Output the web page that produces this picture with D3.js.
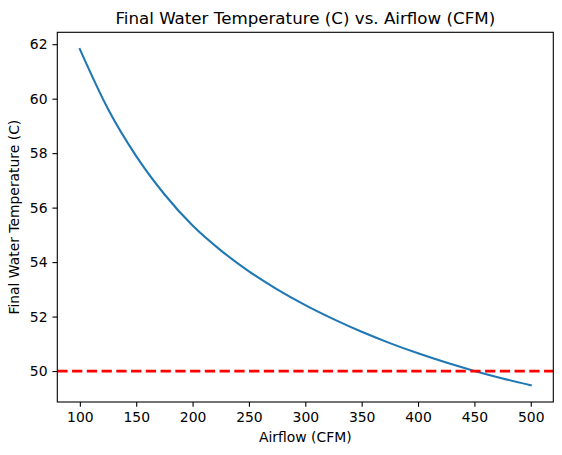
<!DOCTYPE html>
<html>
<head>
<meta charset="utf-8">
<script src="https://cdn.jsdelivr.net/npm/d3@7"></script>
<style>
  html, body { margin: 0; padding: 0; background: #fff; }
  svg { display: block; font-family: "DejaVu Sans", sans-serif; }
</style>
</head>
<body>
<svg id="chart" width="562" height="455"></svg>
<script>
// Data
const airflow = [100, 125, 150, 175, 200, 225, 250, 275, 300, 325, 350, 375, 400, 425, 450, 475, 500];
const finalTemp = [61.82, 59.62, 57.89, 56.49, 55.34, 54.43, 53.66, 53.00, 52.42, 51.905, 51.44, 51.025, 50.65, 50.31, 50.005, 49.73, 49.48];
const threshold = 50;
const xTicks = [100, 150, 200, 250, 300, 350, 400, 450, 500];
const yTicks = [50, 52, 54, 56, 58, 60, 62];
const titleText = "Final Water Temperature (C) vs. Airflow (CFM)";
const xLabel = "Airflow (CFM)";
const yLabel = "Final Water Temperature (C)";

const svg = d3.select("#chart");
const L = 57.3, T = 32.3, R = 553.3, B = 402;

const xMin = d3.min(airflow), xMax = d3.max(airflow);
const xPad = (xMax - xMin) * 0.05;
const yMin = d3.min(finalTemp), yMax = d3.max(finalTemp);
const yPad = (yMax - yMin) * 0.05;

const x = d3.scaleLinear().domain([xMin - xPad, xMax + xPad]).range([L, R]);
const y = d3.scaleLinear().domain([yMin - yPad, yMax + yPad]).range([B, T]);

const pts = airflow.map((a, i) => [a, finalTemp[i]]);

svg.append("defs").append("clipPath").attr("id", "clip")
  .append("rect").attr("x", L).attr("y", T).attr("width", R - L).attr("height", B - T);

const plot = svg.append("g").attr("clip-path", "url(#clip)");

plot.append("path")
  .datum(pts)
  .attr("fill", "none")
  .attr("stroke", "#1f77b4")
  .attr("stroke-width", 2.08)
  .attr("stroke-linecap", "square")
  .attr("d", d3.line().x(d => x(d[0])).y(d => y(d[1])).curve(d3.curveMonotoneX));

plot.append("line")
  .attr("x1", L).attr("x2", R)
  .attr("y1", y(threshold)).attr("y2", y(threshold))
  .attr("stroke", "red")
  .attr("stroke-width", 2.78)
  .attr("stroke-dasharray", "10.3,4.45");

// Axes
const xAxis = d3.axisBottom(x).tickValues(xTicks).tickSize(4.86).tickPadding(4.9).tickFormat(d3.format("d"));
const yAxis = d3.axisLeft(y).tickValues(yTicks).tickSize(4.86).tickPadding(4.9).tickFormat(d3.format("d"));

const gx = svg.append("g").attr("transform", `translate(0,${B})`).call(xAxis);
const gy = svg.append("g").attr("transform", `translate(${L},0)`).call(yAxis);
[gx, gy].forEach(g => {
  g.select(".domain").remove();
  g.selectAll(".tick line").attr("stroke", "#000").attr("stroke-width", 1.1);
  g.selectAll(".tick text").attr("fill", "#000").style("font-size", "13.9px").style("font-family", "DejaVu Sans, sans-serif");
});

// Spines
svg.append("rect")
  .attr("x", L).attr("y", T).attr("width", R - L).attr("height", B - T)
  .attr("fill", "none").attr("stroke", "#000").attr("stroke-width", 1.1);

// Title and labels
svg.append("text")
  .attr("x", (L + R) / 2).attr("y", 24)
  .attr("text-anchor", "middle")
  .style("font-size", "16.7px")
  .text(titleText);

svg.append("text")
  .attr("x", (L + R) / 2).attr("y", 442)
  .attr("text-anchor", "middle")
  .style("font-size", "13.9px")
  .text(xLabel);

svg.append("text")
  .attr("transform", `translate(19,${(T + B) / 2}) rotate(-90)`)
  .attr("text-anchor", "middle")
  .style("font-size", "13.9px")
  .text(yLabel);
</script>
</body>
</html>
